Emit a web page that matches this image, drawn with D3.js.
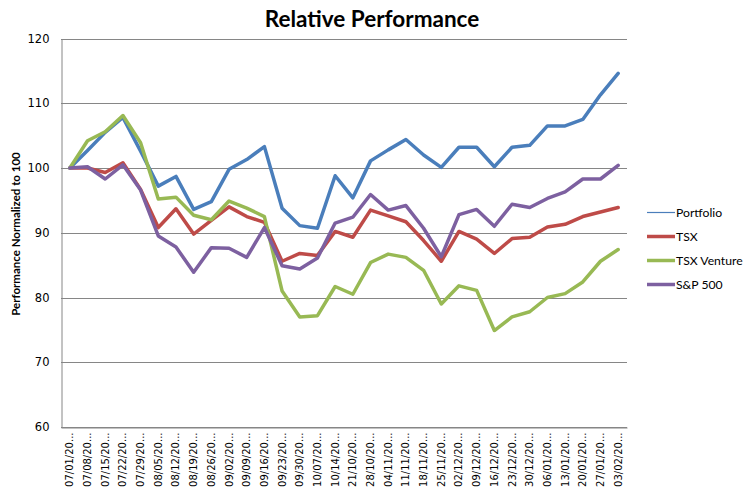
<!DOCTYPE html>
<html><head><meta charset="utf-8">
<script src="https://cdn.jsdelivr.net/npm/d3@7"></script>
<style>body{margin:0;background:#fff}svg{display:block}</style>
</head><body>
<svg id="chart" width="745" height="498"></svg>
<script>
const categories = ["07/01/20...","07/08/20...","07/15/20...","07/22/20...","07/29/20...","08/05/20...","08/12/20...","08/19/20...","08/26/20...","09/02/20...","09/09/20...","09/16/20...","09/23/20...","09/30/20...","10/07/20...","10/14/20...","21/10/20...","28/10/20...","04/11/20...","11/11/20...","18/11/20...","25/11/20...","02/12/20...","09/12/20...","16/12/20...","23/12/20...","30/12/20...","06/01/20...","13/01/20...","20/01/20...","27/01/20...","03/02/20..."];
const portfolio = [100,102.7,105.5,107.8,102.6,97.2,98.7,93.6,94.8,99.8,101.3,103.3,93.8,91.1,90.7,98.8,95.4,101.1,102.8,104.4,102.0,100.1,103.2,103.2,100.2,103.2,103.5,106.5,106.5,107.5,111.3,114.6];
const tsx = [100,100,99.3,100.8,96.7,90.8,93.7,89.8,91.9,94.0,92.5,91.6,85.6,86.8,86.5,90.2,89.3,93.5,92.6,91.7,88.8,85.6,90.2,89.0,86.8,89.1,89.3,90.9,91.3,92.5,93.2,93.9];
const tsxVenture = [100,104.2,105.6,108.1,103.9,95.2,95.5,92.7,92.0,94.9,93.8,92.5,81.0,77.0,77.2,81.7,80.5,85.4,86.7,86.2,84.2,79.0,81.8,81.1,74.9,77.0,77.8,80.0,80.6,82.4,85.6,87.4];
const sp500 = [100,100.2,98.3,100.5,96.6,89.5,87.8,83.9,87.7,87.6,86.2,90.8,84.9,84.4,86.1,91.5,92.4,95.9,93.5,94.2,90.7,86.3,92.8,93.6,91.0,94.4,93.9,95.3,96.3,98.3,98.3,100.4];
const seriesNames = ["Portfolio","TSX","TSX Venture","S&P 500"];
const yTicks = [60,70,80,90,100,110,120];

const series = [
  {name: seriesNames[0], values: portfolio, color: "#4A7EBB", legendWidth: 1.2},
  {name: seriesNames[1], values: tsx, color: "#BE4B48", legendWidth: 3.5},
  {name: seriesNames[2], values: tsxVenture, color: "#98B954", legendWidth: 3.5},
  {name: seriesNames[3], values: sp500, color: "#7D60A0", legendWidth: 3.5}
];

const svg = d3.select("#chart");
const plotLeft = 61, plotRight = 627, plotTop = 38.5, plotBottom = 427;

const x = d3.scaleBand().domain(categories).range([plotLeft, plotRight]);
const y = d3.scaleLinear().domain([60, 120]).range([plotBottom, plotTop]);

// gridlines
svg.append("g").selectAll("line").data(yTicks).join("line")
  .attr("x1", plotLeft).attr("x2", plotRight)
  .attr("y1", d => Math.round(y(d)) + 0.5).attr("y2", d => Math.round(y(d)) + 0.5)
  .attr("stroke", "#868686").attr("stroke-width", 1);

// y axis
const yAxis = svg.append("g").attr("transform", `translate(${plotLeft + 0.5},0)`)
  .call(d3.axisLeft(y).tickValues(yTicks).tickSize(0).tickPadding(12));
yAxis.select(".domain").attr("stroke", "#868686");
yAxis.selectAll("text").attr("font-family", "DejaVu Sans").attr("font-size", "11.5px").attr("fill", "#000");

// x axis
const xAxis = svg.append("g").attr("transform", `translate(0,${Math.round(plotBottom) + 0.5})`)
  .call(d3.axisBottom(x).tickSize(0).tickPadding(6));
xAxis.select(".domain").attr("stroke", "#868686");
xAxis.selectAll("text")
  .attr("font-family", "DejaVu Sans").attr("font-size", "10px").attr("fill", "#000")
  .attr("transform", "rotate(-90)")
  .attr("text-anchor", "end")
  .attr("x", -5).attr("y", 0).attr("dy", "0.35em");

// lines
const line = d3.line().x((d, i) => x(categories[i]) + x.bandwidth() / 2).y(d => y(d));
svg.append("g").selectAll("path").data(series).join("path")
  .attr("d", d => line(d.values))
  .attr("fill", "none").attr("stroke", d => d.color)
  .attr("stroke-width", 3.5).attr("stroke-linejoin", "round").attr("stroke-linecap", "round");

// title
svg.append("text").attr("x", 372).attr("y", 27).attr("text-anchor", "middle")
  .attr("font-family", "Lato").attr("font-weight", "bold").attr("font-size", "22.5px")
  .text("Relative Performance");

// y axis title
svg.append("text").attr("transform", "translate(20,234) rotate(-90)").attr("text-anchor", "middle")
  .attr("font-family", "Lato").attr("font-weight", "bold").attr("font-size", "11.5px")
  .text("Performance Normalized to 100");

// legend
const lg = svg.append("g").selectAll("g").data(series).join("g")
  .attr("transform", (d, i) => `translate(647,${212.5 + i * 24})`);
lg.append("line").attr("x1", 0).attr("x2", 28).attr("y1", 0).attr("y2", 0)
  .attr("stroke", d => d.color).attr("stroke-width", d => d.legendWidth);
lg.append("text").attr("x", 29).attr("y", 0).attr("dy", "0.35em")
  .attr("font-family", "Lato").attr("font-size", "12.2px").text(d => d.name);
</script>
</body></html>
